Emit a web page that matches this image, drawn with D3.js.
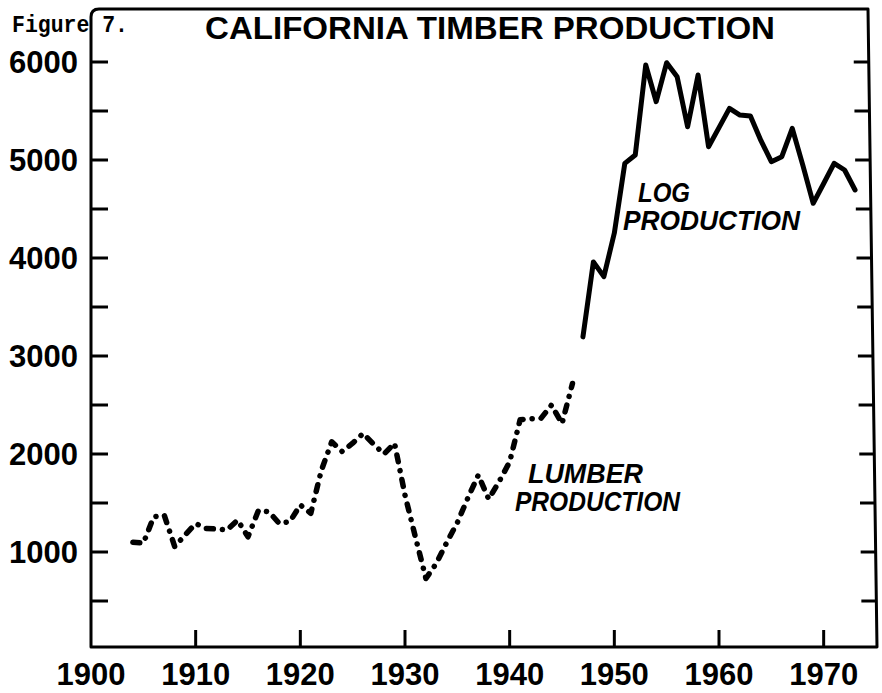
<!DOCTYPE html>
<html>
<head>
<meta charset="utf-8">
<script src="https://cdn.jsdelivr.net/npm/d3@7/dist/d3.min.js"></script>
<style>
  html, body { margin: 0; padding: 0; background: #fff; }
  svg { display: block; }
</style>
</head>
<body>
<svg id="chart" width="882" height="693"></svg>
<script>
// ---- Data ----
const lumberYears = [1904,1905,1906,1907,1908,1909,1910,1911,1912,1913,1914,1915,1916,1917,1918,1919,1920,1921,1922,1923,1924,1925,1926,1927,1928,1929,1930,1931,1932,1933,1934,1935,1936,1937,1938,1939,1940,1941,1942,1943,1944,1945,1946];
const lumberValues = [1100,1090,1360,1375,1055,1175,1290,1240,1235,1225,1325,1155,1425,1410,1290,1310,1480,1395,1830,2125,2025,2110,2210,2100,2000,2110,1580,1150,730,885,1100,1300,1550,1785,1540,1720,1920,2350,2360,2365,2500,2310,2720];

const logYears = [1947,1948,1949,1950,1951,1952,1953,1954,1955,1956,1957,1958,1959,1960,1961,1962,1963,1964,1965,1966,1967,1968,1969,1970,1971,1972,1973];
const logValues = [3195,3960,3810,4255,4966,5051,5969,5595,5993,5850,5340,5867,5136,5330,5527,5459,5449,5200,4983,5034,5323,4950,4558,4760,4966,4898,4694];

const xTickValues = [1900,1910,1920,1930,1940,1950,1960,1970];
const yLabelValues = [1000,2000,3000,4000,5000,6000];
const yTickValues = [500,1000,1500,2000,2500,3000,3500,4000,4500,5000,5500,6000];

const titleText = "CALIFORNIA TIMBER PRODUCTION";
const figureText = "Figure 7.";

// ---- Scales ----
const x = d3.scaleLinear().domain([1900, 1975]).range([91, 876]);
const y = d3.scaleLinear().domain([0, 6000]).range([650, 62]);

const svg = d3.select("#chart");
const ink = "#000";
const numFont = "'Liberation Sans', Arial, sans-serif";

// frame geometry
const frameTop = 9, frameBottom = 647, frameLeft = 91;
const rightTopX = 868, rightBottomX = 877;
const rightX = yy => rightTopX + (yy - frameTop) / (frameBottom - frameTop) * (rightBottomX - rightTopX);

// Frame
svg.append("path")
  .attr("d", `M${frameLeft},${frameBottom} L${frameLeft},${frameTop + 8} Q${frameLeft},${frameTop} ${frameLeft + 8},${frameTop} L${rightTopX},${frameTop} L${rightBottomX},${frameBottom} Z`)
  .attr("fill", "none").attr("stroke", ink).attr("stroke-width", 3).attr("stroke-linejoin", "round");

// Left axis ticks
svg.append("g").selectAll("line").data(yTickValues).join("line")
  .attr("x1", frameLeft).attr("x2", frameLeft + 17)
  .attr("y1", d => y(d)).attr("y2", d => y(d))
  .attr("stroke", ink).attr("stroke-width", 3);

// Right axis ticks
svg.append("g").selectAll("line").data(yTickValues).join("line")
  .attr("x1", d => rightX(y(d))).attr("x2", d => rightX(y(d)) - 15)
  .attr("y1", d => y(d)).attr("y2", d => y(d))
  .attr("stroke", ink).attr("stroke-width", 3);

// Bottom ticks
svg.append("g").selectAll("line").data(xTickValues.filter(d => d > 1900)).join("line")
  .attr("x1", d => x(d)).attr("x2", d => x(d))
  .attr("y1", frameBottom).attr("y2", frameBottom - 17)
  .attr("stroke", ink).attr("stroke-width", 3);

// Y labels
svg.append("g").selectAll("text").data(yLabelValues).join("text")
  .attr("x", 78).attr("y", d => y(d)).attr("dy", "0.36em")
  .attr("text-anchor", "end")
  .attr("font-family", numFont).attr("font-weight", "bold").attr("font-size", 31)
  .attr("fill", ink)
  .text(d => d);

// X labels
svg.append("g").selectAll("text").data(xTickValues).join("text")
  .attr("x", d => x(d)).attr("y", 685)
  .attr("text-anchor", "middle")
  .attr("font-family", numFont).attr("font-weight", "bold").attr("font-size", 31)
  .attr("fill", ink)
  .text(d => d);

// Title
svg.append("text")
  .attr("x", 205).attr("y", 39)
  .attr("font-family", numFont).attr("font-weight", "bold").attr("font-size", 31)
  .attr("textLength", 570).attr("lengthAdjust", "spacingAndGlyphs")
  .attr("fill", ink)
  .text(titleText);

// Figure label
svg.append("text")
  .attr("x", 12).attr("y", 32)
  .attr("font-family", "'Liberation Mono', 'DejaVu Sans Mono', monospace")
  .attr("font-weight", "bold").attr("font-size", 24)
  .attr("textLength", 116).attr("lengthAdjust", "spacingAndGlyphs")
  .attr("fill", ink)
  .text(figureText);

// Lines
const lumberData = lumberYears.map((yr, i) => ({ year: yr, value: lumberValues[i] }));
const logData = logYears.map((yr, i) => ({ year: yr, value: logValues[i] }));
const line = d3.line().x(d => x(d.year)).y(d => y(d.value));

svg.append("path")
  .datum(lumberData)
  .attr("d", line)
  .attr("fill", "none").attr("stroke", ink).attr("stroke-width", 5.5)
  .attr("stroke-linecap", "round").attr("stroke-linejoin", "round")
  .attr("stroke-dasharray", "7,9,0.1,9");

svg.append("path")
  .datum(logData)
  .attr("d", line)
  .attr("fill", "none").attr("stroke", ink).attr("stroke-width", 5)
  .attr("stroke-linecap", "round").attr("stroke-linejoin", "round");

// Annotations
const annFont = "'Liberation Sans', Arial, sans-serif";
const annotations = [
  { text: "LOG", x: 638, y: 202, len: 52 },
  { text: "PRODUCTION", x: 623, y: 230, len: 177 },
  { text: "LUMBER", x: 528, y: 483, len: 115 },
  { text: "PRODUCTION", x: 515, y: 511, len: 165 }
];
svg.append("g").selectAll("text").data(annotations).join("text")
  .attr("x", d => d.x).attr("y", d => d.y)
  .attr("font-family", annFont).attr("font-style", "italic").attr("font-weight", "bold")
  .attr("font-size", 28)
  .attr("textLength", d => d.len).attr("lengthAdjust", "spacingAndGlyphs")
  .attr("fill", ink)
  .text(d => d.text);
</script>
</body>
</html>
